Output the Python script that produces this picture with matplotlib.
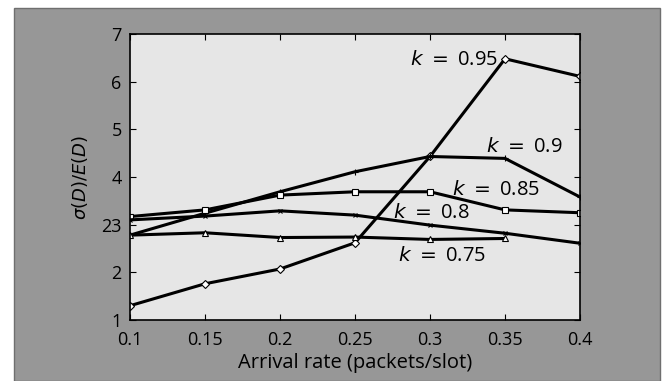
import matplotlib
matplotlib.use('Agg')
import matplotlib.pyplot as plt
from matplotlib.patches import Rectangle

# values
rates = [0.1, 0.15, 0.2, 0.25, 0.3, 0.35, 0.4]
k095 = [1.30, 1.76, 2.07, 2.62, 4.43, 6.48, 6.11]
k090 = [2.78, 3.24, 3.69, 4.11, 4.43, 4.39, 3.58]
k085 = [3.17, 3.31, 3.62, 3.69, 3.69, 3.31, 3.25]
k080 = [3.10, 3.18, 3.29, 3.20, 2.99, 2.82, 2.61]
k075 = [2.78, 2.83, 2.73, 2.74, 2.69, 2.71]
rates075 = rates[:6]

xticks = [0.1, 0.15, 0.2, 0.25, 0.3, 0.35, 0.4]
xticklabels = ['0.1', '0.15', '0.2', '0.25', '0.3', '0.35', '0.4']
yticks = [1, 2, 3, 4, 5, 6, 7]
yticklabels = ['1', '2', '23', '4', '5', '6', '7']

plt.rcParams['font.family'] = ['Open Sans', 'DejaVu Sans']
plt.rcParams['mathtext.fontset'] = 'dejavusans'

fig = plt.figure(figsize=(6.66, 3.81), dpi=100, facecolor='white')
# gray frame behind the plot
fig.patches.append(Rectangle((0.021, 0.0), 0.970, 0.979, transform=fig.transFigure,
                             facecolor='#979797', edgecolor='#6f6f6f', lw=1, zorder=-1))

ax = fig.add_axes([0.1952, 0.1601, 0.6757, 0.7507])
ax.set_zorder(1)
ax.set_facecolor('#e6e6e6')

lw = 2.2
ax.plot(rates, k095, color='black', lw=lw, marker='D', ms=4, mfc='white', mec='black', mew=0.8)
ax.plot(rates, k090, color='black', lw=lw, marker='+', ms=5, mew=0.8)
ax.plot(rates, k085, color='black', lw=lw, marker='s', ms=4, mfc='white', mec='black', mew=0.8)
ax.plot(rates, k080, color='black', lw=lw, marker='x', ms=3, mew=0.8)
ax.plot(rates075, k075, color='black', lw=lw, marker='^', ms=5, mfc='white', mec='black', mew=0.8)

fs = 14.5
ax.text(0.345, 6.45, r'$k\;=\;$0.95', fontsize=fs, ha='right', va='center')
ax.text(0.363, 4.63, r'$k\;=\;$0.9', fontsize=fs, ha='center', va='center')
ax.text(0.344, 3.73, r'$k\;=\;$0.85', fontsize=fs, ha='center', va='center')
ax.text(0.301, 3.25, r'$k\;=\;$0.8', fontsize=fs, ha='center', va='center')
ax.text(0.308, 2.34, r'$k\;=\;$0.75', fontsize=fs, ha='center', va='center')

ax.set_xlim(0.1, 0.4)
ax.set_ylim(1, 7)
ax.set_xticks(xticks)
ax.set_xticklabels(xticklabels)
ax.set_yticks(yticks)
ax.set_yticklabels(yticklabels)
ax.tick_params(direction='in', top=True, right=True, length=4, labelsize=13)
ax.tick_params(axis='x', pad=8)
ax.tick_params(axis='y', pad=6)
for s in ax.spines.values():
    s.set_linewidth(1.2)

ax.set_xlabel('Arrival rate (packets/slot)', fontsize=14.5, labelpad=3)
ax.set_ylabel(r'$\sigma(D)/E(D)$', fontsize=13, labelpad=8)

fig.savefig('out.png', dpi=100, facecolor=fig.get_facecolor())
